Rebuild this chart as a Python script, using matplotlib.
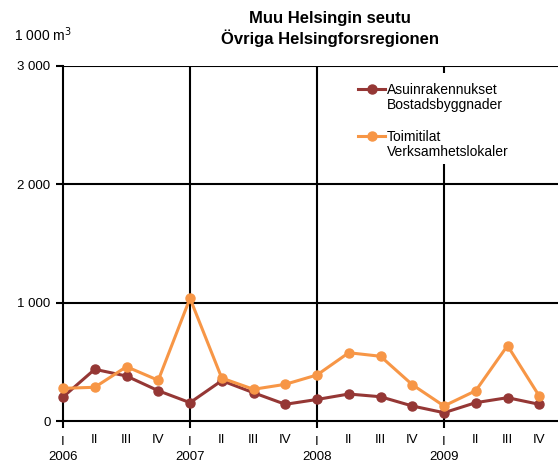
import matplotlib
matplotlib.use("Agg")
import matplotlib.pyplot as plt
from matplotlib.lines import Line2D
from matplotlib.patches import Rectangle

plt.rcParams['font.family'] = ['Liberation Sans', 'DejaVu Sans']

quarters = ["I", "II", "III", "IV"] * 4
years = ["2006", "2007", "2008", "2009"]
asuin = [203, 437, 380, 256, 155, 341, 239, 141, 182, 228, 205, 127, 70, 155, 197, 141]
toimi = [276, 285, 459, 344, 1037, 363, 268, 310, 389, 577, 547, 307, 127, 256, 637, 211]
yticks = [0, 1000, 2000, 3000]
ytick_labels = ["0", "1 000", "2 000", "3 000"]
series_labels = [("Asuinrakennukset", "Bostadsbyggnader"), ("Toimitilat", "Verksamhetslokaler")]
title = "Muu Helsingin seutu\nÖvriga Helsingforsregionen"
unit = "1 000 m$^3$"

c_brown = "#953735"
c_orange = "#F79646"
FS = 9.5
LFS = 10

W, H = 558, 462
fig = plt.figure(figsize=(W / 100, H / 100), dpi=100)
ax = fig.add_axes([63 / W, 41 / H, 1 - 63 / W, 355 / H])

x = list(range(len(asuin)))
ax.plot(x, asuin, color=c_brown, lw=2.2, marker="o", ms=6.5, zorder=3, clip_on=False)
ax.plot(x, toimi, color=c_orange, lw=2.2, marker="o", ms=6.5, zorder=4, clip_on=False)

ax.set_xlim(0, 495 / 31.75)
ax.set_ylim(0, 3000)
ax.set_yticks(yticks)
ax.set_yticklabels(ytick_labels, fontsize=FS)
ax.tick_params(axis='y', length=5, width=1.5, pad=4)

year_pos = [0, 4, 8, 12]
ax.set_xticks(year_pos)
ax.set_xticklabels([f"I\n{y}" for y in years], fontsize=FS, linespacing=1.3)
minor_pos = [i for i in x if i % 4 != 0]
ax.set_xticks(minor_pos, minor=True)
ax.set_xticklabels([quarters[i] for i in minor_pos], minor=True, fontsize=FS)
ax.tick_params(axis='x', which='major', length=5, width=1.5, pad=6)
ax.tick_params(axis='x', which='minor', length=0, pad=9.6)

for yv in yticks[1:]:
    ax.axhline(yv, color="black", lw=1.5, zorder=1)
for xv in year_pos[1:]:
    ax.axvline(xv, color="black", lw=1.5, zorder=1)

for s in ["top", "right"]:
    ax.spines[s].set_visible(False)
ax.spines["left"].set_linewidth(1.5)
ax.spines["bottom"].set_linewidth(1.5)

# legend drawn manually (handle aligned with first label line, as in reference)
fig.patches.append(Rectangle((355 / W, 1 - 164 / H), 195 / W, 91 / H, transform=fig.transFigure,
                             facecolor="white", edgecolor="none", zorder=5))
for (l1, l2), col, yc in [(series_labels[0], c_brown, 89), (series_labels[1], c_orange, 136)]:
    fig.add_artist(Line2D([358 / W, 385 / W], [1 - yc / H, 1 - yc / H], color=col, lw=2.2,
                          transform=fig.transFigure, zorder=6))
    fig.add_artist(Line2D([371.5 / W], [1 - yc / H], color=col, marker="o", ms=6.5,
                          transform=fig.transFigure, zorder=6))
    fig.text(387 / W, 1 - (yc + 1) / H, l1, ha="left", va="center", fontsize=LFS, zorder=7)
    fig.text(387 / W, 1 - (yc + 16) / H, l2, ha="left", va="center", fontsize=LFS, zorder=7)

fig.text(330 / W, 1 - 29 / H, title, ha="center", va="center", fontsize=12,
         fontweight="bold", linespacing=1.2)
fig.text(14 / W, 1 - 35 / H, unit, ha="left", va="center", fontsize=10)

fig.savefig("out.png", dpi=100)
